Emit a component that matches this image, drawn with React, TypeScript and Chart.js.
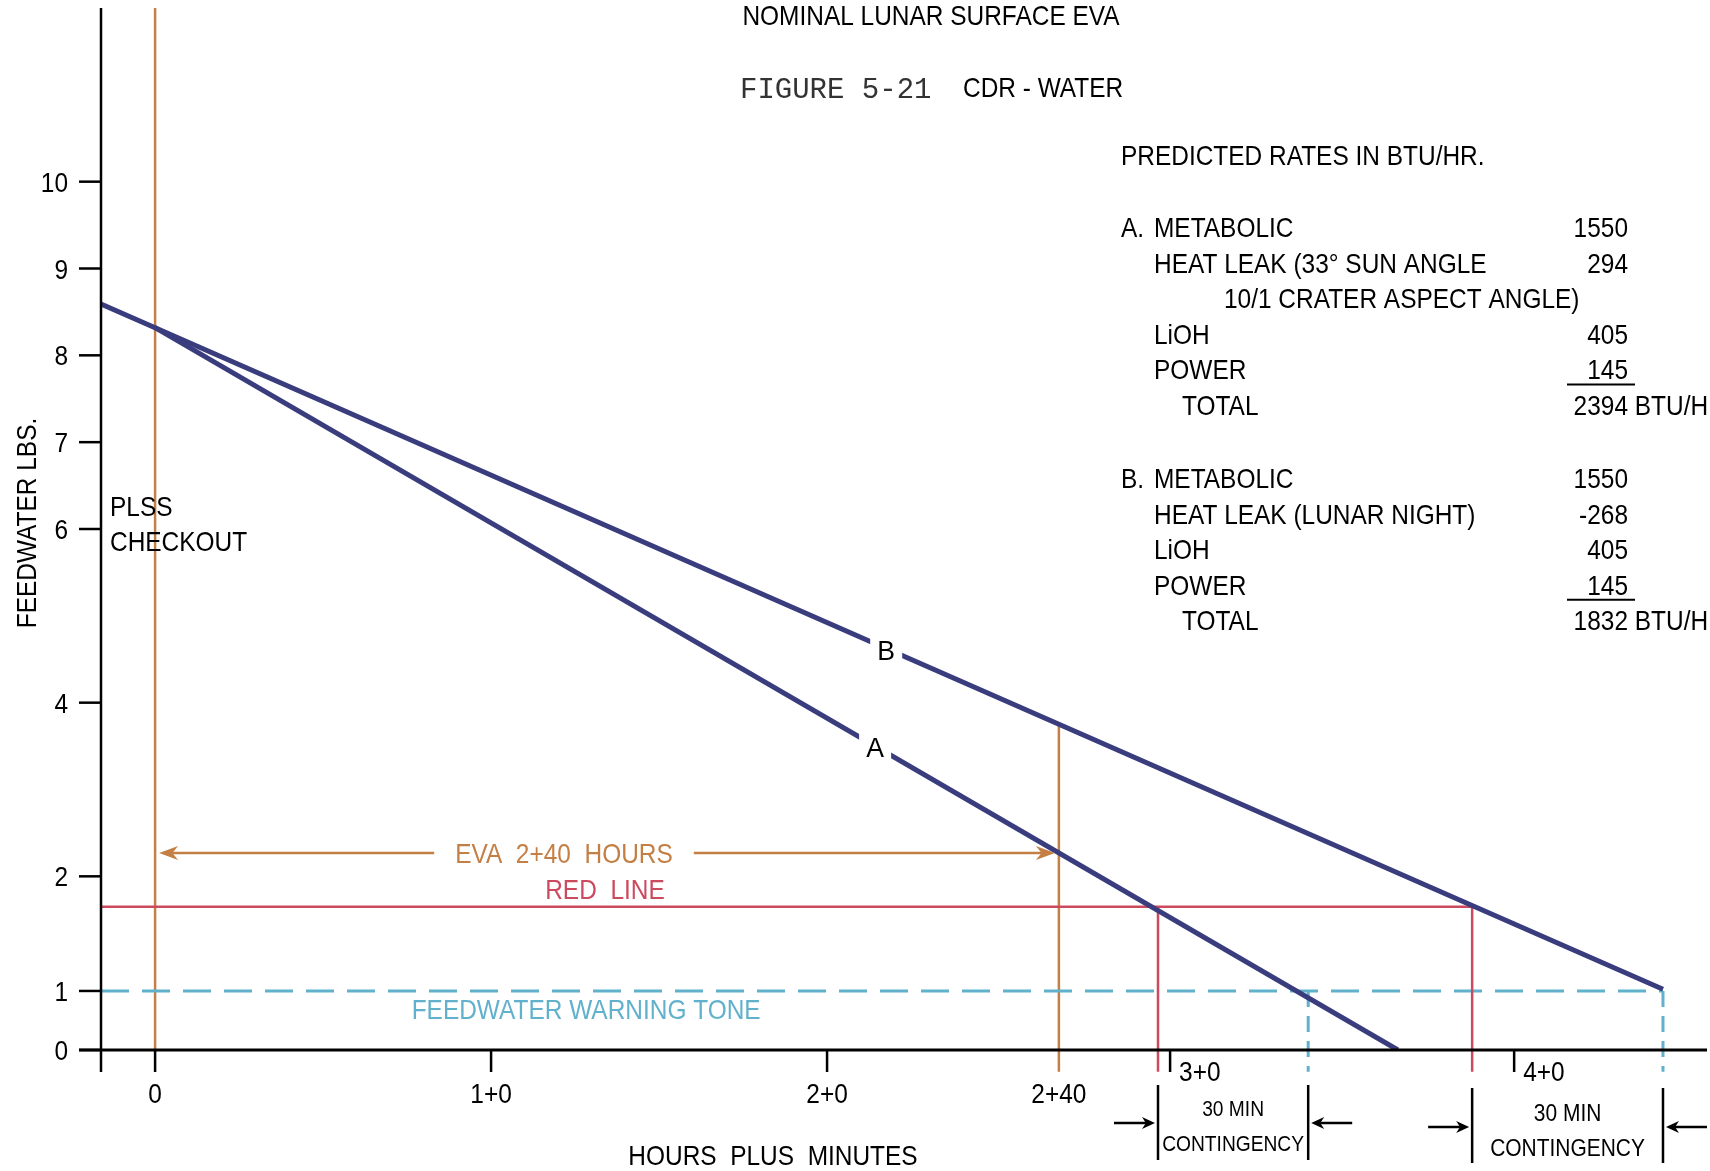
import React, { useEffect, useRef } from 'react';
import { Chart, registerables } from 'chart.js';

Chart.register(...registerables);

// ---------------- data ----------------
// curve A (lunar day) and curve B (lunar night): hours vs feedwater lbs
const hoursA = [0, 3.699];
const lbsA = [8.32, 0];
const hoursB = [-0.161, 4.488];
const lbsB = [8.59, 0.7];

const redLineLbs = 1.65;
const warningToneLbs = 0.68;
const redLineHours = [2.985, 3.92]; // A and B reach the red line
const warningHours = [3.432, 4.488]; // A and B reach the warning tone

const evaEndHours = 2.69; // 2+40 marker
const evaEndTopLbs = 3.74; // marker starts on curve B
const evaArrowLbs = 2.27;
const evaLabelHours = 1.217;
const redLabelHours = 1.339;
const warningLabelHours = 1.283;
const checkoutTopLbs = 12;
const belowAxisLbs = -0.25;

const labelA = { hours: 2.143, lbs: 3.49, text: 'A' };
const labelB = { hours: 2.176, lbs: 4.61, text: 'B' };

const yTickValues = [0, 0.68, 2, 4, 6, 7, 8, 9, 10];
const yTickLabels = ['0', '1', '2', '4', '6', '7', '8', '9', '10'];
const xTickValues = [0, 1, 2];
const xTickLabels = ['0', '1+0', '2+0'];
const xMarkTickValues = [3.021, 4.045];
const xMarkTickLabels = ['3+0', '4+0'];
const evaTickLabel = '2+40';

const contingencyFrom = [redLineHours[0], redLineHours[1]];
const contingencyTo = [warningHours[0], warningHours[1]];
const contingencyText = ['30 MIN', 'CONTINGENCY'];

const xMin = -0.161;
const xMax = 4.619;
const yMin = 0;
const yMax = 12;

const tableTitle = 'PREDICTED RATES IN BTU/HR.';
const caseALabels = ['METABOLIC', 'HEAT LEAK (33° SUN ANGLE', '10/1 CRATER ASPECT ANGLE)', 'LiOH', 'POWER', 'TOTAL'];
const caseAValues = ['1550', '294', '', '405', '145', '2394'];
const caseBLabels = ['METABOLIC', 'HEAT LEAK (LUNAR NIGHT)', 'LiOH', 'POWER', 'TOTAL'];
const caseBValues = ['1550', '-268', '405', '145', '1832'];

// ---------------- styles ----------------
const NAVY = '#393c7d';
const ORANGE = '#c47f45';
const RED = '#cc4a5e';
const BLUE = '#61b1cc';
const FONT = '"Liberation Sans", Arial, sans-serif';
const MONO = '"Liberation Mono", "Courier New", monospace';
const SX = 0.873;

type TOpt = { size?: number; color?: string; align?: CanvasTextAlign; sx?: number; family?: string; rotate?: number };
function txt(ctx: CanvasRenderingContext2D, s: string, x: number, y: number, o: TOpt = {}) {
  ctx.save();
  ctx.font = `${o.size ?? 28}px ${o.family ?? FONT}`;
  ctx.fillStyle = o.color ?? '#000';
  ctx.textAlign = o.align ?? 'left';
  ctx.textBaseline = 'alphabetic';
  ctx.translate(x, y);
  if (o.rotate) ctx.rotate(o.rotate);
  ctx.scale(o.sx ?? SX, 1);
  ctx.fillText(s, 0, 0);
  ctx.restore();
}
function textWidth(ctx: CanvasRenderingContext2D, s: string, size = 28, sx = SX) {
  ctx.save();
  ctx.font = `${size}px ${FONT}`;
  const w = ctx.measureText(s).width * sx;
  ctx.restore();
  return w;
}
function line(ctx: CanvasRenderingContext2D, x1: number, y1: number, x2: number, y2: number, w = 2.5, c = '#000') {
  ctx.save();
  ctx.strokeStyle = c;
  ctx.lineWidth = w;
  ctx.beginPath();
  ctx.moveTo(x1, y1);
  ctx.lineTo(x2, y2);
  ctx.stroke();
  ctx.restore();
}
function arrowHead(ctx: CanvasRenderingContext2D, tipX: number, y: number, dir: number, len: number, half: number, c: string) {
  ctx.save();
  ctx.fillStyle = c;
  ctx.beginPath();
  ctx.moveTo(tipX, y);
  ctx.lineTo(tipX - dir * len, y - half);
  ctx.lineTo(tipX - dir * len * 0.7, y);
  ctx.lineTo(tipX - dir * len, y + half);
  ctx.closePath();
  ctx.fill();
  ctx.restore();
}

const seg = (xs: number[], ys: number[]) => xs.map((x, i) => ({ x, y: ys[i] }));

const figurePlugin = {
  id: 'figure',
  afterDatasetsDraw(chart: any) {
    const ctx: CanvasRenderingContext2D = chart.ctx;
    const xs = chart.scales.x;
    const ys = chart.scales.y;
    const X = (v: number) => xs.getPixelForValue(v);
    const Y = (v: number) => ys.getPixelForValue(v);
    const left = X(xMin);
    const right = X(xMax);
    const top = Y(yMax);
    const bottom = Y(0);
    const tickLen = 22;

    // axes
    line(ctx, left, top, left, bottom + tickLen, 2.5);
    line(ctx, left - tickLen, bottom, right, bottom, 3);
    yTickValues.forEach((v, i) => {
      const py = Y(v);
      line(ctx, left - tickLen, py, left, py, 2.5);
      txt(ctx, yTickLabels[i], left - 33, py + 10, { align: 'right' });
    });
    xTickValues.forEach((v, i) => {
      const px = X(v);
      line(ctx, px, bottom, px, bottom + tickLen, 2.5);
      txt(ctx, xTickLabels[i], px, bottom + 53, { align: 'center' });
    });
    xMarkTickValues.forEach((v, i) => {
      const px = X(v);
      line(ctx, px, bottom, px, bottom + tickLen, 2.5);
      txt(ctx, xMarkTickLabels[i], px + 9, bottom + 31);
    });
    txt(ctx, evaTickLabel, X(evaEndHours), bottom + 53, { align: 'center' });

    // axis titles
    txt(ctx, 'FEEDWATER LBS.', 36, 523, { align: 'center', rotate: -Math.PI / 2 });
    txt(ctx, 'HOURS  PLUS  MINUTES', 773, bottom + 115, { align: 'center' });

    // curve labels
    [labelB, labelA].forEach((l) => {
      const px = X(l.hours);
      const py = Y(l.lbs);
      ctx.save();
      ctx.fillStyle = '#fff';
      ctx.fillRect(px - 16, py - 16, 32, 32);
      ctx.restore();
      txt(ctx, l.text, px, py + 10, { align: 'center', sx: 0.95 });
    });

    // EVA arrow
    const ay = Y(evaArrowLbs);
    const lx = X(0) + 4;
    const rx = X(evaEndHours) - 4;
    const cx = X(evaLabelHours);
    const evaText = 'EVA  2+40  HOURS';
    const gap = textWidth(ctx, evaText) / 2 + 21;
    line(ctx, lx + 10, ay, cx - gap, ay, 2.5, ORANGE);
    line(ctx, cx + gap, ay, rx - 10, ay, 2.5, ORANGE);
    arrowHead(ctx, lx, ay, -1, 19, 7, ORANGE);
    arrowHead(ctx, rx, ay, 1, 19, 7, ORANGE);
    txt(ctx, evaText, cx, ay + 10, { align: 'center', color: ORANGE });

    txt(ctx, 'RED  LINE', X(redLabelHours), Y(redLineLbs) - 8, { align: 'center', color: RED });
    txt(ctx, 'FEEDWATER WARNING TONE', X(warningLabelHours), Y(warningToneLbs) + 28, { align: 'center', color: BLUE });

    txt(ctx, 'PLSS', 110, 516);
    txt(ctx, 'CHECKOUT', 110, 551);

    // contingency brackets
    contingencyFrom.forEach((h0, i) => {
      const x0 = X(h0);
      const x1 = X(contingencyTo[i]);
      const off = i === 0 ? 0 : 3;
      const size = i === 0 ? 22 : 24;
      line(ctx, x0, bottom + 35 + off, x0, bottom + 110 + off, 2.5);
      line(ctx, x1, bottom + 35 + off, x1, bottom + 110 + off, 2.5);
      const ay2 = bottom + 73 + off + (i === 0 ? 0 : 1);
      line(ctx, x0 - 44, ay2, x0 - 12, ay2, 2.5);
      arrowHead(ctx, x0 - 3, ay2, 1, 13, 6, '#000');
      line(ctx, x1 + 44, ay2, x1 + 12, ay2, 2.5);
      arrowHead(ctx, x1 + 3, ay2, -1, 13, 6, '#000');
      const mx = (x0 + x1) / 2;
      txt(ctx, contingencyText[0], mx, bottom + 66 + off + (i === 0 ? 0 : 2), { align: 'center', size });
      txt(ctx, contingencyText[1], mx, bottom + 101 + off + (i === 0 ? 0 : 2), { align: 'center', size });
    });

    // titles
    txt(ctx, 'NOMINAL LUNAR SURFACE EVA', 931, 25, { align: 'center' });
    txt(ctx, 'FIGURE 5-21', 740, 98, { family: MONO, size: 29, sx: 1, color: '#333' });
    txt(ctx, 'CDR - WATER', 963, 97);

    // table
    const tx = 1121;
    const lab = 1154;
    const valR = 1628;
    txt(ctx, tableTitle, tx, 165);
    const drawCase = (letter: string, labels: string[], values: string[], y0: number) => {
      txt(ctx, letter, tx, y0);
      labels.forEach((l, i) => {
        const y = y0 + i * 35.6;
        const lx2 = l === 'TOTAL' ? 1182 : l.startsWith('10/1') ? 1224 : lab;
        txt(ctx, l, lx2, y);
        const v = values[i];
        if (v) {
          txt(ctx, v, valR, y, { align: 'right' });
          if (l === 'TOTAL') txt(ctx, ' BTU/H', valR, y);
          if (l === 'POWER') line(ctx, 1567, y + 5, 1635, y + 5, 2);
        }
      });
    };
    drawCase('A.', caseALabels, caseAValues, 237);
    drawCase('B.', caseBLabels, caseBValues, 488);
  },
};

export default function App() {
  const ref = useRef<HTMLCanvasElement>(null);
  useEffect(() => {
    if (!ref.current) return;
    const vertical = (h: number, y0: number, y1: number) => [{ x: h, y: y0 }, { x: h, y: y1 }];
    const chart = new Chart(ref.current, {
      type: 'line',
      data: {
        datasets: [
          { label: 'A', data: seg(hoursA, lbsA), borderColor: NAVY, borderWidth: 5, order: 0 },
          { label: 'B', data: seg(hoursB, lbsB), borderColor: NAVY, borderWidth: 5, order: 0 },
          { label: 'Red line', data: [{ x: xMin, y: redLineLbs }, { x: redLineHours[1], y: redLineLbs }], borderColor: RED, borderWidth: 2.5, order: 2 },
          { label: 'Red A', data: vertical(redLineHours[0], redLineLbs, belowAxisLbs), borderColor: RED, borderWidth: 2.5, order: 2, clip: false },
          { label: 'Red B', data: vertical(redLineHours[1], redLineLbs, belowAxisLbs), borderColor: RED, borderWidth: 2.5, order: 2, clip: false },
          { label: 'Warning tone', data: [{ x: xMin, y: warningToneLbs }, { x: warningHours[1], y: warningToneLbs }], borderColor: BLUE, borderWidth: 3, borderDash: [28, 13], order: 3 },
          { label: 'Warn A', data: vertical(warningHours[0], warningToneLbs, belowAxisLbs), borderColor: BLUE, borderWidth: 3, borderDash: [16, 9], order: 3, clip: false },
          { label: 'Warn B', data: vertical(warningHours[1], warningToneLbs, belowAxisLbs), borderColor: BLUE, borderWidth: 3, borderDash: [16, 9], order: 3, clip: false },
          { label: 'Checkout', data: vertical(0, checkoutTopLbs, 0), borderColor: ORANGE, borderWidth: 2.5, order: 4 },
          { label: 'EVA end', data: vertical(evaEndHours, evaEndTopLbs, belowAxisLbs), borderColor: ORANGE, borderWidth: 2.5, order: 4, clip: false },
        ] as any,
      },
      options: {
        responsive: false,
        animation: false,
        devicePixelRatio: 1,
        events: [],
        layout: { padding: { left: 101, right: 3, top: 8, bottom: 121 } },
        elements: { point: { radius: 0 }, line: { tension: 0, fill: false } },
        plugins: { legend: { display: false }, tooltip: { enabled: false }, title: { display: false } },
        scales: {
          x: { type: 'linear', min: xMin, max: xMax, display: false },
          y: { type: 'linear', min: yMin, max: yMax, display: false },
        },
      },
      plugins: [figurePlugin],
    });
    return () => chart.destroy();
  }, []);
  return (
    <div style={{ position: 'fixed', left: 0, top: 0, width: 1710, height: 1171, background: '#fff' }}>
      <canvas ref={ref} width={1710} height={1171} style={{ display: 'block' }} />
    </div>
  );
}
